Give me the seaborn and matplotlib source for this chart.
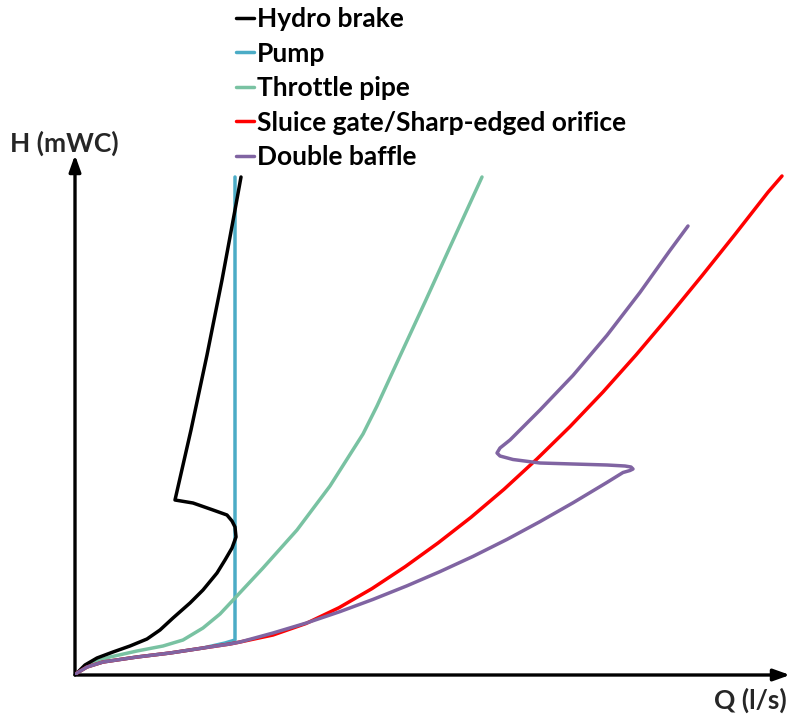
import matplotlib
matplotlib.use("Agg")
import matplotlib.pyplot as plt
import seaborn as sns
import pandas as pd

# ---- data (arbitrary units) ----
hydro_q = [0, 2, 10, 22, 38, 55, 72, 85, 98, 115, 128, 142, 150, 157, 161, 160, 157, 152, 138, 118, 100,
           116, 132, 147, 160, 166]
hydro_h = [0, 2, 10, 17, 23, 29, 36, 45, 57, 72, 85, 102, 115, 127, 138, 148, 154, 160, 165, 172, 175,
           245, 320, 395, 465, 498]

pump_q = [0, 2, 12, 28, 62, 95, 128, 150, 160, 160]
pump_h = [0, 2, 8, 13, 18, 22, 27, 32, 35, 498]

throttle_q = [0, 2, 15, 35, 62, 88, 108, 128, 145, 160, 188, 222, 255, 288, 302, 325, 350, 375, 407]
throttle_h = [0, 2, 12, 18, 24, 29, 35, 47, 61, 77, 107, 145, 189, 241, 269, 319, 373, 428, 498]

sluice_q = [0, 2, 12, 28, 62, 95, 128, 155, 165, 198, 231, 264, 297, 330, 363, 396, 429, 462, 495,
            528, 561, 594, 627, 660, 693, 707]
sluice_h = [0, 2, 8, 13, 18, 22, 27, 31, 33, 40, 51.5, 67.3, 86.4, 108.2, 132, 157.7, 185.7, 216.1, 248.4,
            283, 320, 359, 399.3, 440.6, 482.8, 499]

baffle_q = [0, 2, 12, 28, 62, 95, 128, 155, 165, 198, 232, 265, 298, 332, 365, 398, 432, 465, 498, 532,
            548, 555, 558, 556, 550, 532, 498, 465, 438, 425, 422, 425, 435, 465, 498, 532, 565, 595, 613]
baffle_h = [0, 2, 8, 13, 18, 22, 27, 31, 33, 42, 52.2, 63.4, 75.6, 89.2, 103.4, 118.6, 135.6, 153.4, 172.2, 192.6,
            202.5, 204.5, 206, 208, 209, 210, 211, 212, 215.5, 219, 222, 227, 235, 265, 299.6, 339.7, 382.6,
            424.6, 449]

series = [
    ("Hydro brake", hydro_q, hydro_h, "#000000", 3),
    ("Pump", pump_q, pump_h, "#4BACC6", 1),
    ("Throttle pipe", throttle_q, throttle_h, "#79C2A2", 2),
    ("Sluice gate/Sharp-edged orifice", sluice_q, sluice_h, "#FF0000", 4),
    ("Double baffle", baffle_q, baffle_h, "#8064A2", 5),
]

sns.set_theme(style="white")
plt.rcParams["font.family"] = ["Lato", "DejaVu Sans"]

fig = plt.figure(figsize=(8.1, 7.17), dpi=100)
W, H = 810, 717
ax = fig.add_axes([75 / W, (H - 675) / H, 715 / W, (675 - 155) / H])

for name, q, h, col, z in series:
    df = pd.DataFrame({"Q": q, "H": h})
    sns.lineplot(data=df, x="Q", y="H", sort=False, estimator=None,
                 color=col, lw=2.5, ax=ax, label=name, zorder=z,
                 solid_joinstyle="round", solid_capstyle="round")

ax.set_xlim(0, 715)
ax.set_ylim(0, 520)
ax.set_xticks([])
ax.set_yticks([])
ax.set_xlabel("")
ax.set_ylabel("")
for s in ax.spines.values():
    s.set_visible(False)

arrow = dict(arrowstyle="-|>,head_length=0.7,head_width=0.25", lw=2.4,
             color="black", shrinkA=0, shrinkB=0, mutation_scale=14)
ax.annotate("", xy=(0, 1), xytext=(0, 0), xycoords="axes fraction",
            textcoords="axes fraction", arrowprops=arrow, annotation_clip=False)
ax.annotate("", xy=(1, 0), xytext=(0, 0), xycoords="axes fraction",
            textcoords="axes fraction", arrowprops=arrow, annotation_clip=False)

handles, labels = ax.get_legend_handles_labels()
ax.get_legend().remove()
leg = fig.legend(handles, labels, loc="upper left",
                 bbox_to_anchor=(236 / W, 1 - 7 / H), frameon=False,
                 prop={"weight": "bold", "size": 19}, handlelength=0.68,
                 handletextpad=0.12, labelspacing=0.4, borderpad=0,
                 borderaxespad=0)
for t in leg.get_texts():
    t.set_color("black")

fig.text(10 / W, 1 - 143 / H, "H (mWC)", fontsize=19, fontweight="bold",
         ha="left", va="center")
fig.text(714 / W, 1 - 700 / H, "Q (l/s)", fontsize=19, fontweight="bold",
         ha="left", va="center")

fig.savefig("out.png", dpi=100)
